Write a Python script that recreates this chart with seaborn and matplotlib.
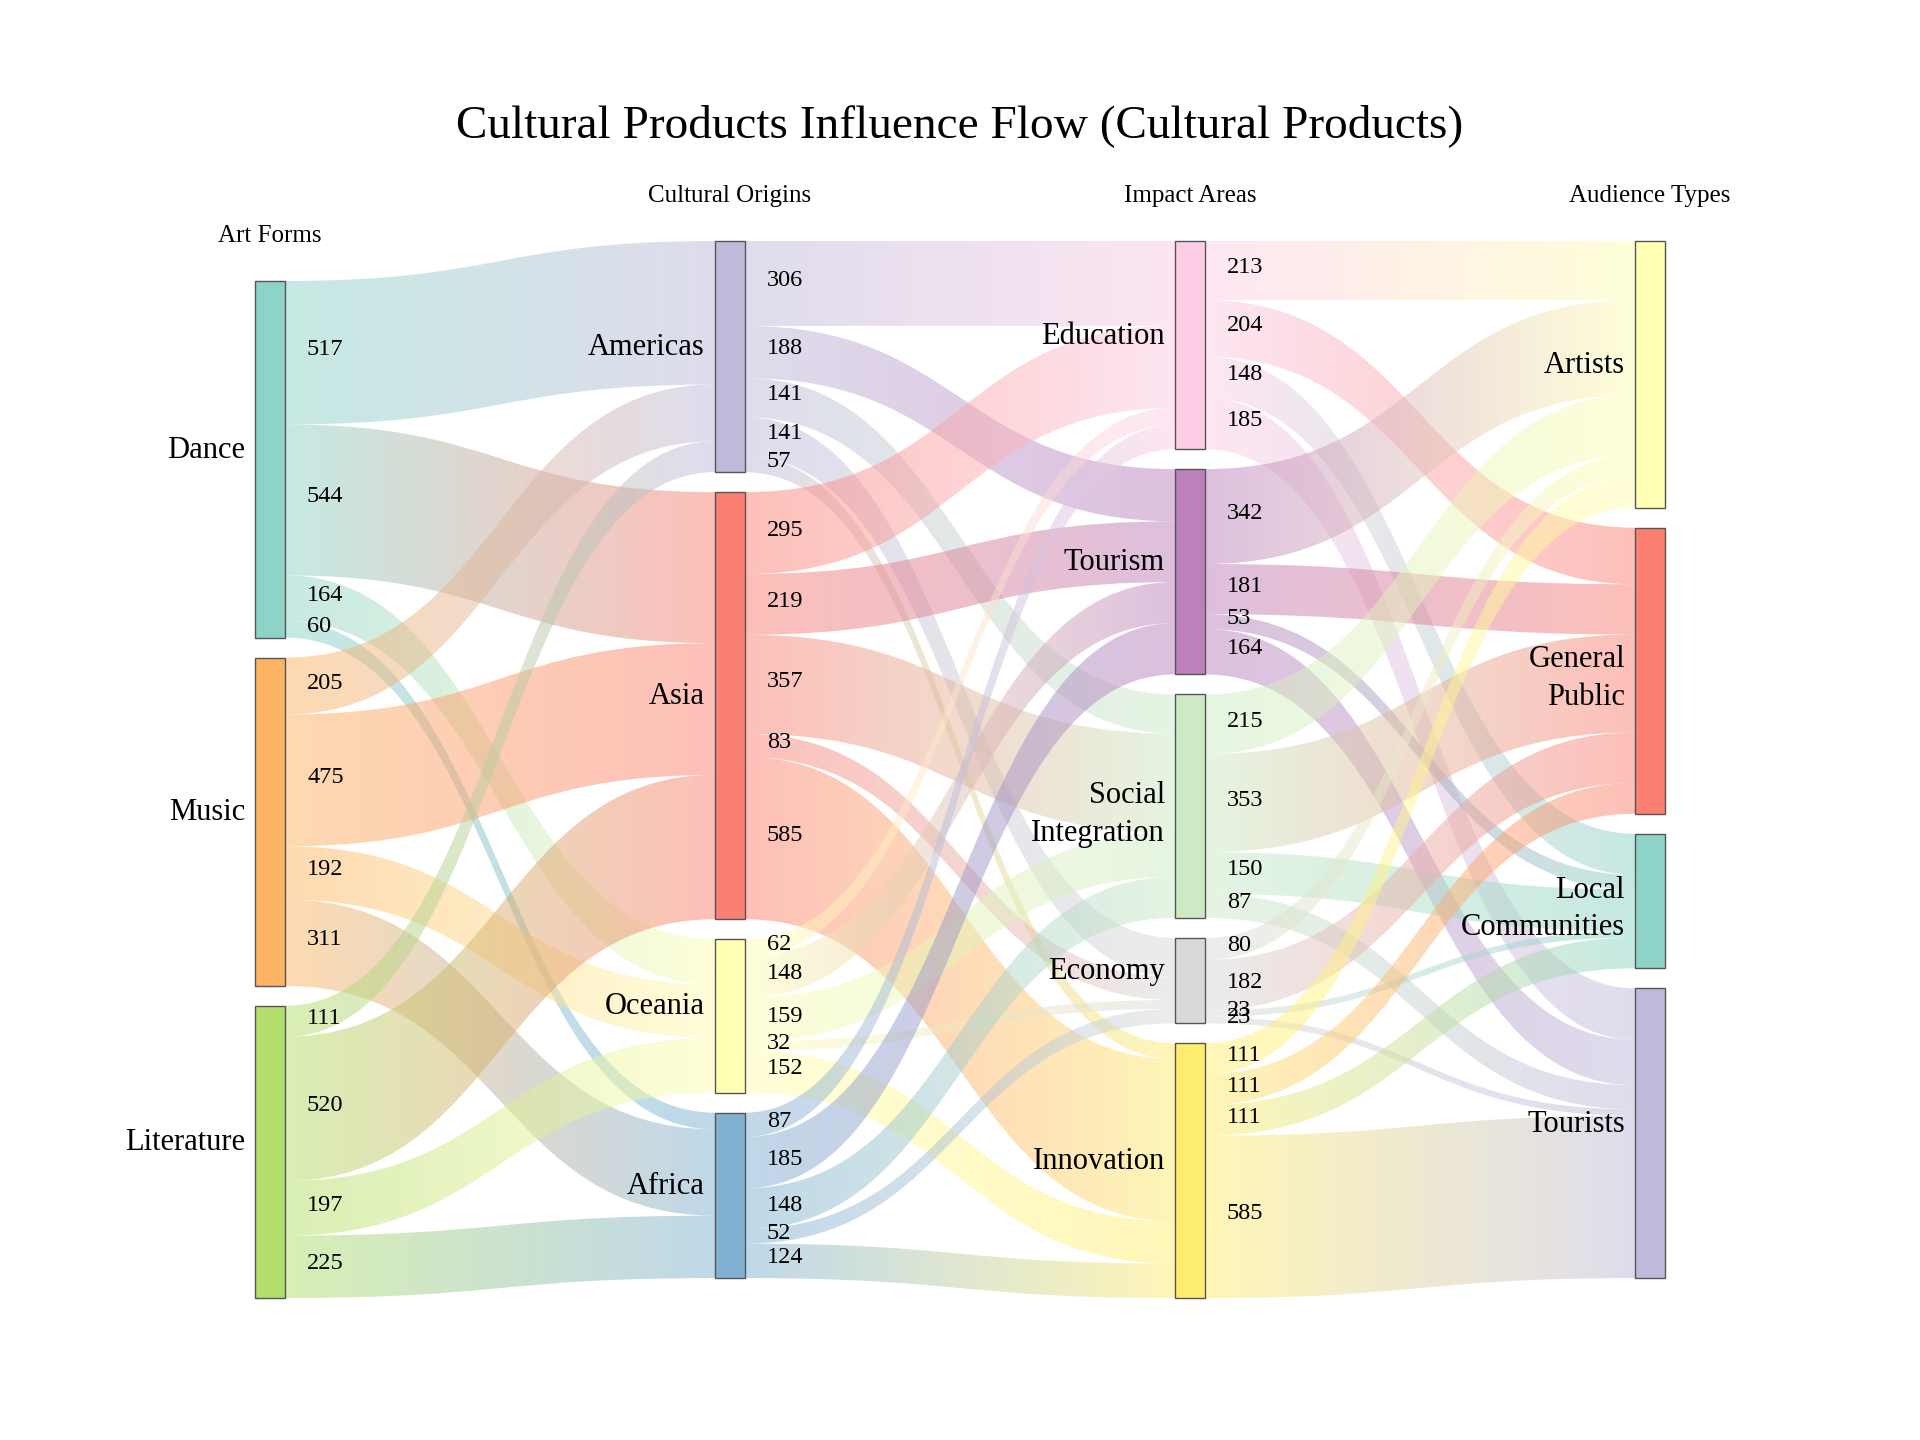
import matplotlib
matplotlib.use("Agg")
import matplotlib.pyplot as plt
from matplotlib.path import Path
from matplotlib.patches import PathPatch, Rectangle
import numpy as np
import seaborn as sns

# node names per column
art_forms = ["Dance", "Music", "Literature"]
origins = ["Americas", "Asia", "Oceania", "Africa"]
impacts = ["Education", "Tourism", "Social Integration", "Economy", "Innovation"]
audiences = ["Artists", "General Public", "Local Communities", "Tourists"]
headers = ["Art Forms", "Cultural Origins", "Impact Areas", "Audience Types"]

# flows: rows = source node, columns = target node
art_to_origin = [[517, 544, 164, 60],
                 [205, 475, 192, 311],
                 [111, 520, 197, 225]]
origin_to_impact = [[306, 188, 141, 141, 57],
                    [295, 219, 357, 83, 585],
                    [62, 148, 159, 32, 152],
                    [87, 185, 148, 52, 124]]
impact_to_audience = [[213, 204, 148, 185],
                      [342, 181, 53, 164],
                      [215, 353, 150, 87],
                      [80, 182, 23, 23],
                      [111, 111, 111, 585]]

sns.set_style("white")
plt.rcParams['font.family'] = ['Liberation Serif', 'DejaVu Serif']
plt.rcParams['text.color'] = 'black'

pal = sns.color_palette("Set3", 12)
col_colors = [[pal[i] for i in (0, 5, 6)],
              [pal[i] for i in (2, 3, 1, 4)],
              [pal[i] for i in (7, 9, 10, 8, 11)],
              [pal[i] for i in (1, 3, 0, 2)]]
columns = [art_forms, origins, impacts, audiences]
flows = [np.array(art_to_origin), np.array(origin_to_impact), np.array(impact_to_audience)]

# layout (pixels)
col_x = [255, 715, 1175, 1635]
col_top = [281, 241, 241, 241]
node_w = 30
gap = 20
scale = 0.2775
link_alpha = 0.5

# node sizes = max(inflow, outflow)
sizes = []
for c in range(4):
    n = len(columns[c])
    inflow = flows[c - 1].sum(axis=0) if c > 0 else np.zeros(n)
    outflow = flows[c].sum(axis=1) if c < 3 else np.zeros(n)
    sizes.append(np.maximum(inflow, outflow))

node_y = []
for c in range(4):
    ys = []
    y = col_top[c]
    for s in sizes[c]:
        ys.append(y)
        y += s * scale + gap
    node_y.append(ys)

fig = plt.figure(figsize=(19.2, 14.4), dpi=100)
ax = fig.add_axes([0, 0, 1, 1])


def band_path(x0, y0a, y0b, x1, y1a, y1b):
    xm = (x0 + x1) / 2
    verts = [(x0, y0a), (xm, y0a), (xm, y1a), (x1, y1a),
             (x1, y1b), (xm, y1b), (xm, y0b), (x0, y0b), (x0, y0a)]
    codes = [Path.MOVETO, Path.CURVE4, Path.CURVE4, Path.CURVE4,
             Path.LINETO, Path.CURVE4, Path.CURVE4, Path.CURVE4, Path.CLOSEPOLY]
    return Path(verts, codes)


t = np.linspace(0, 1, 256)[None, :, None]
for c in range(3):
    F = flows[c]
    out_off = [0.0] * F.shape[0]
    in_off = [0.0] * F.shape[1]
    x0 = col_x[c] + node_w
    x1 = col_x[c + 1]
    for i in range(F.shape[0]):
        for j in range(F.shape[1]):
            v = F[i, j]
            h = v * scale
            y0a = node_y[c][i] + out_off[i]
            y1a = node_y[c + 1][j] + in_off[j]
            out_off[i] += h
            in_off[j] += h
            c0 = np.array(col_colors[c][i])
            c1 = np.array(col_colors[c + 1][j])
            rgb = (1 - t) * c0 + t * c1
            img = np.concatenate([rgb, np.full((1, 256, 1), link_alpha)], axis=2)
            ymin = min(y0a, y1a) - 2
            ymax = max(y0a, y1a) + h + 2
            im = ax.imshow(img, extent=[x0, x1, ymax, ymin], aspect='auto',
                           interpolation='bilinear', zorder=1)
            patch = PathPatch(band_path(x0, y0a, y0a + h, x1, y1a, y1a + h),
                              transform=ax.transData, facecolor='none', edgecolor='none')
            im.set_clip_path(patch)
            ax.text(x0 + 22, y0a + h / 2 - 3, f"{v}", ha='left', va='center',
                    fontsize=17.5, color='black', zorder=4)

for c in range(4):
    for k, name in enumerate(columns[c]):
        h = sizes[c][k] * scale
        ax.add_patch(Rectangle((col_x[c], node_y[c][k]), node_w, h,
                               facecolor=col_colors[c][k], edgecolor='#555555',
                               linewidth=1.0, zorder=3))
        multi = " " in name
        dy = 8 if multi else -9
        ax.text(col_x[c] - 10, node_y[c][k] + h / 2 + dy, name.replace(" ", "\n"),
                ha='right', va='center', fontsize=22, linespacing=1.4,
                color='black', zorder=5)
    ax.text(col_x[c] + node_w / 2, col_top[c] - 45, headers[c], ha='center',
            va='center', fontsize=18, color='black')

ax.text(960, 126, "Cultural Products Influence Flow (Cultural Products)",
        ha='center', va='center', fontsize=34, color='black')

ax.set_xlim(0, 1920)
ax.set_ylim(1440, 0)
ax.axis('off')
fig.savefig("out.png", dpi=100, facecolor='white')
